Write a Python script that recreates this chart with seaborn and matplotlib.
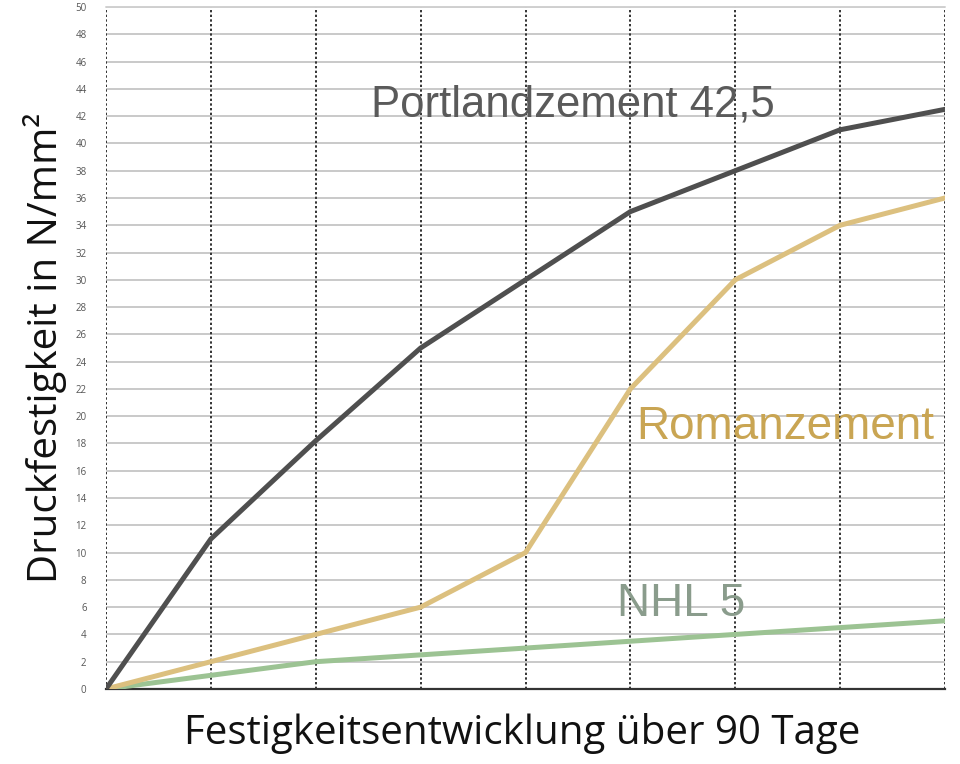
import numpy as np
import pandas as pd
import matplotlib
matplotlib.use("Agg")
import matplotlib.pyplot as plt
import seaborn as sns

# messpunkte (gleichmaessig ueber 90 tage)
steps = [0, 1, 2, 3, 4, 5, 6, 7, 8]
portland = [0, 11, 18.2, 25, 30, 35, 38, 41, 42.5]
roman = [0, 2, 4, 6, 10, 22, 30, 34, 36]
nhl = [0, 1, 2, 2.5, 3, 3.5, 4, 4.5, 5]

series_names = ["Portlandzement 42,5", "Romanzement", "NHL 5"]
y_ticks = list(range(0, 51, 2))

colors = {
    "Portlandzement 42,5": "#4f4f4f",
    "Romanzement": "#dcc07f",
    "NHL 5": "#9cc393",
}
label_colors = {
    "Portlandzement 42,5": "#5a5a5a",
    "Romanzement": "#c9a553",
    "NHL 5": "#8a9c8c",
}

df = pd.DataFrame({
    "step": steps * 3,
    "value": portland + roman + nhl,
    "series": np.repeat(series_names, len(steps)),
})

sns.set_theme(style="white")
plt.rcParams["font.family"] = ["Open Sans", "DejaVu Sans"]

fig = plt.figure(figsize=(9.6, 7.64), dpi=100)
ax = fig.add_axes([0.1104, 0.0982, 0.8740, 0.8926])

# gitter
for y in y_ticks:
    ax.axhline(y, color="#c9c9c9", lw=1.4, zorder=0)
for x in steps:
    ax.axvline(x, color="#333333", lw=1.4, ls=(0, (1.2, 1.2)), zorder=0)

sns.lineplot(data=df, x="step", y="value", hue="series", palette=colors,
             hue_order=["NHL 5", "Romanzement", "Portlandzement 42,5"],
             linewidth=3.6, legend=False, ax=ax, zorder=3)

ax.set_xlim(0, 8)
ax.set_ylim(0, 50)
ax.set_xticks(steps)
ax.set_xticklabels([])
ax.set_yticks(y_ticks)
ax.set_yticklabels([str(v) for v in y_ticks], fontsize=7, color="#555555")
ax.tick_params(axis="both", length=0, pad=14)
ax.set_xlabel("")
ax.set_ylabel("")

for side in ["left", "right", "top"]:
    ax.spines[side].set_visible(False)
ax.spines["bottom"].set_color("#333333")
ax.spines["bottom"].set_linewidth(1.6)
ax.axhline(50, color="#d0d0d0", lw=1.4, zorder=0, clip_on=False)

fig.text(0.544, 0.040, "Festigkeitsentwicklung über 90 Tage", fontsize=29,
         color="#111111", ha="center", va="center")
fig.text(0.047, 0.545, "Druckfestigkeit in N/mm²", fontsize=29, rotation=90,
         color="#111111", ha="center", va="center")

label_font = ["Liberation Sans", "DejaVu Sans"]
ax.text(4.45, 42.8, "Portlandzement 42,5", fontsize=31.5, color=label_colors["Portlandzement 42,5"],
        ha="center", va="center", family=label_font, zorder=4)
ax.text(6.48, 19.2, "Romanzement", fontsize=33, color=label_colors["Romanzement"],
        ha="center", va="center", family=label_font, zorder=4)
ax.text(5.48, 6.2, "NHL 5", fontsize=33, color=label_colors["NHL 5"],
        ha="center", va="center", family=label_font, zorder=4)

fig.savefig("out.png", dpi=100)
